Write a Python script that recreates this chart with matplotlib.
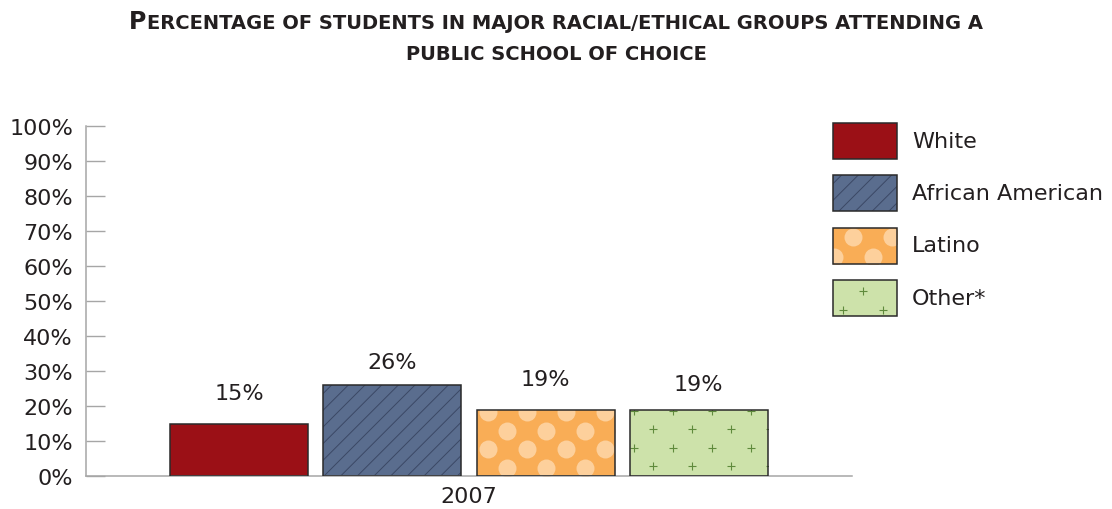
import matplotlib
matplotlib.use("Agg")
import matplotlib.pyplot as plt
from matplotlib.patches import Rectangle
from matplotlib.lines import Line2D
from matplotlib.transforms import IdentityTransform

# --- data ---
groups = ["White", "African American", "Latino", "Other*"]
values = [15, 26, 19, 19]
year = "2007"
y_ticks = [0, 10, 20, 30, 40, 50, 60, 70, 80, 90, 100]
y_labels = [f"{v}%" for v in y_ticks]
title_lines = ["Percentage of students in major racial/ethical groups attending a",
               "public school of choice"]

# --- style ---
W, H = 1112, 510
INK = "#231f20"
GRID_GRAY = "#a6a6a6"
EDGE = "#2a2a2a"
fills = ["#9b1016", "#5a6d8e", "#f9ad56", "#cde2aa"]
AA_HATCH = "#3b4865"
DOT = "#fdd09c"
PLUS = "#5f8a3c"
label_lift = [24.5, 17, 24.5, 19.5]   # px between bar top and its value label

plt.rcParams["font.family"] = ["DejaVu Sans"]
plt.rcParams["hatch.linewidth"] = 0.7


def stipple(patch, marker, size, color, x0, y0, dx, dy, mew=0.0):
    """Repeat a marker over a patch (display pixels); clip it afterwards."""
    bb = patch.get_window_extent()
    xs, ys = [], []
    r = 0
    y = bb.y1 - y0
    while y > bb.y0 - size:
        x = bb.x0 + x0 + (dx / 2 if r % 2 else 0)
        while x > bb.x0 - size:
            x -= dx
        while x < bb.x1 + size:
            xs.append(x)
            ys.append(y)
            x += dx
        y -= dy
        r += 1
    return Line2D(xs, ys, transform=IdentityTransform(), linestyle="none",
                  marker=marker, markersize=size * 0.72, color=color,
                  markerfacecolor=color, markeredgecolor=color,
                  markeredgewidth=mew, zorder=2)


def decorate(kind, patch, legend=False):
    if kind == "dots":
        if legend:
            return stipple(patch, "o", 18, DOT, 20, 9, 39, 20)
        return stipple(patch, "o", 18, DOT, 11, 2.5, 39, 18.5)
    if kind == "plus":
        if legend:
            return stipple(patch, "+", 8, PLUS, 30, 11, 40, 19, mew=0.8)
        return stipple(patch, "+", 8, PLUS, 4, 1.2, 39, 18.5, mew=0.8)
    return None


kinds = [None, "hatch", "dots", "plus"]

fig = plt.figure(figsize=(W / 100, H / 100), dpi=100, facecolor="white")
ax = fig.add_axes([86 / W, 33 / H, 766 / W, 350 / H])

xpos = [i - (len(groups) - 1) / 2 for i in range(len(groups))]
ax.set_xlim(-2.5, 2.5)
ax.set_ylim(0, 100)

for x, v, c, k in zip(xpos, values, fills, kinds):
    if k == "hatch":
        bars = ax.bar(x, v, 0.9, color=c, edgecolor=AA_HATCH, linewidth=0,
                      hatch="//", zorder=1)
    else:
        bars = ax.bar(x, v, 0.9, color=c, linewidth=0, zorder=1)
    deco = decorate(k, bars[0])
    if deco is not None:
        ax.add_line(deco)
        # add_line resets the clip to the axes, so clip to the bar after it
        deco.set_clip_path(bars[0])

# outlines on top of the fill patterns
ax.bar(xpos, values, 0.9, fill=False, edgecolor=EDGE, linewidth=1.1, zorder=3)

for x, v, lift in zip(xpos, values, label_lift):
    ax.annotate(f"{v}%", (x, v), xytext=(0, lift * 0.72), textcoords="offset points",
                ha="center", va="baseline", fontsize=16, color=INK)

for side in ["top", "right"]:
    ax.spines[side].set_visible(False)
for side in ["left", "bottom"]:
    ax.spines[side].set_color(GRID_GRAY)
    ax.spines[side].set_linewidth(1.1)

ax.set_yticks(y_ticks)
ax.set_yticklabels(y_labels)
ax.set_xticks([0])
ax.set_xticklabels([year])
ax.tick_params(axis="y", direction="in", length=13.7, width=1, color=GRID_GRAY,
               pad=9.4, labelsize=16, labelcolor=INK)
ax.tick_params(axis="x", length=0, pad=7, labelsize=16, labelcolor=INK)
ax.set_facecolor("none")

# --- legend, drawn by hand so the patterns show in the swatches ---
for i, (name, c, k) in enumerate(zip(groups, fills, kinds)):
    top = 123.5 + i * 52.5
    box = (833 / W, 1 - (top + 36) / H)
    sw, sh = 64 / W, 36 / H
    if k == "hatch":
        swatch = Rectangle(box, sw, sh, transform=fig.transFigure, facecolor=c,
                           edgecolor=AA_HATCH, linewidth=0, hatch="//", zorder=1)
    else:
        swatch = Rectangle(box, sw, sh, transform=fig.transFigure, facecolor=c,
                           linewidth=0, zorder=1)
    fig.add_artist(swatch)
    deco = decorate(k, swatch, legend=True)
    if deco is not None:
        fig.add_artist(deco)
        deco.set_clip_path(swatch)
    fig.add_artist(Rectangle(box, sw, sh, transform=fig.transFigure, fill=False,
                             edgecolor=EDGE, linewidth=1.1, zorder=3))
    fig.text(912 / W, 1 - (top + 18) / H, name, va="center", ha="left",
             fontsize=16, color=INK)

# --- small-caps title ---
renderer = fig.canvas.get_renderer()
for line, base in zip(title_lines, [29, 60]):
    runs = []
    for ch in line:
        big = ch.isupper()
        if runs and runs[-1][1] == big:
            runs[-1][0] += ch
        else:
            runs.append([ch, big])
    texts = []
    for s, big in runs:
        t = fig.text(0, 1 - base / H, s.upper(), fontsize=17 if big else 14,
                     fontweight="bold", color=INK, va="baseline", ha="left")
        texts.append(t)
    widths = [t.get_window_extent(renderer).width for t in texts]
    x = (W - sum(widths)) / 2
    for t, w in zip(texts, widths):
        t.set_x(x / W)
        x += w

fig.savefig("out.png", dpi=100)
